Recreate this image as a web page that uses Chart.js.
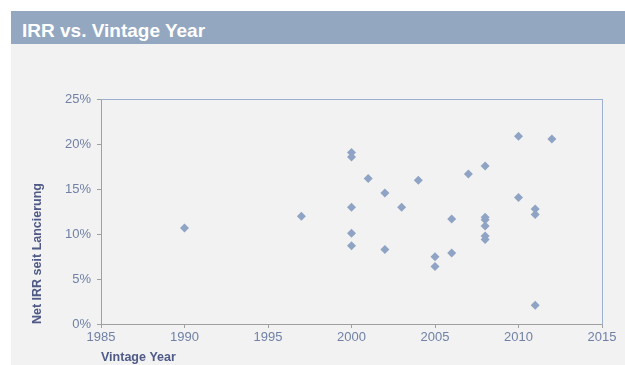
<!DOCTYPE html>
<html>
<head>
<meta charset="utf-8">
<script src="https://cdn.jsdelivr.net/npm/chart.js@4/dist/chart.umd.min.js"></script>
<style>
  html, body { margin: 0; padding: 0; background: #fff; }
  #wrap { position: relative; width: 625px; height: 365px; overflow: hidden; }
  #header {
    position: absolute; left: 11px; top: 11px; width: 614px; height: 33px;
    background: #93a7c1; color: #fff;
    font: bold 19px "Liberation Sans", Arial, sans-serif;
    line-height: 26px; padding: 7px 0 0 11px; box-sizing: border-box;
  }
  #panel { position: absolute; left: 11px; top: 44px; width: 614px; height: 321px; background: #f2f2f2; }
  #irrChart { position: absolute; left: 0; top: 0; }
</style>
</head>
<body>
<div id="wrap">
  <div id="header">IRR vs. Vintage Year</div>
  <div id="panel"></div>
  <canvas id="irrChart" width="625" height="365"></canvas>
</div>
<script>
// values (IRR in %)
const vintageYears = [1990, 1997, 2000, 2000, 2000, 2000, 2000, 2001, 2002, 2002, 2003, 2004,
  2005, 2005, 2006, 2006, 2007, 2008, 2008, 2008, 2008, 2008, 2008, 2010, 2010, 2011, 2011, 2011, 2012];
const netIrr = [10.7, 12.0, 19.1, 18.6, 13.0, 10.1, 8.7, 16.2, 14.6, 8.3, 13.0, 16.0,
  7.5, 6.4, 11.7, 7.9, 16.7, 17.6, 11.9, 11.6, 10.9, 9.8, 9.4, 20.9, 14.1, 12.8, 12.2, 2.1, 20.6];
const yearTicks = [1985, 1990, 1995, 2000, 2005, 2010, 2015];
const irrTicks = [0, 5, 10, 15, 20, 25];

const axisGrey = "#a0a0a0";
const frameBlue = "#9cb1d1";
const labelColor = "#7080a6";
const titleColor = "#4f5a86";

const points = vintageYears.map((yr, i) => ({ x: yr, y: netIrr[i] }));

new Chart(document.getElementById("irrChart"), {
  type: "scatter",
  data: {
    datasets: [
      {
        data: points,
        pointStyle: "rectRot",
        pointRadius: 4.5,
        pointHoverRadius: 4.5,
        backgroundColor: "#8fa4c4",
        borderWidth: 0,
      },
    ],
  },
  options: {
    responsive: false,
    animation: false,
    devicePixelRatio: 1,
    layout: { padding: { top: 99.5, right: 23, left: 0, bottom: 0 } },
    plugins: { legend: { display: false }, tooltip: { enabled: false } },
    scales: {
      x: {
        type: "linear",
        position: "bottom",
        min: yearTicks[0],
        max: yearTicks[yearTicks.length - 1],
        afterBuildTicks: (scale) => { scale.ticks = yearTicks.map((v) => ({ value: v })); },
        afterFit: (scale) => { scale.height = 41; },
        ticks: {
          color: labelColor,
          font: { family: "Liberation Sans", size: 13 },
          padding: 2,
          maxRotation: 0,
          callback: (v) => String(v),
        },
        grid: { drawOnChartArea: false, drawTicks: true, tickLength: 4, color: axisGrey },
        border: { display: true, color: axisGrey },
        title: {
          display: true,
          text: "Vintage Year",
          align: "start",
          color: titleColor,
          font: { family: "Liberation Sans", size: 12.5, weight: "bold" },
          padding: 0,
        },
      },
      y: {
        position: "left",
        min: irrTicks[0],
        max: irrTicks[irrTicks.length - 1],
        afterBuildTicks: (scale) => { scale.ticks = irrTicks.map((v) => ({ value: v })); },
        afterFit: (scale) => { scale.width = 101; },
        ticks: {
          color: labelColor,
          font: { family: "Liberation Sans", size: 13 },
          padding: 6,
          callback: (v) => v + "%",
        },
        grid: { drawOnChartArea: false, drawTicks: true, tickLength: 4, color: axisGrey },
        border: { display: true, color: axisGrey },
        title: {
          display: true,
          text: "Net IRR seit Lancierung",
          align: "start",
          color: titleColor,
          font: { family: "Liberation Sans", size: 12.5, weight: "bold" },
          padding: { top: 30, bottom: 0 },
        },
      },
      // frame on the top and right
      xTop: {
        type: "linear",
        position: "top",
        min: 0, max: 1,
        afterFit: (scale) => { scale.height = 0; },
        ticks: { display: false },
        grid: { display: false },
        border: { display: true, color: frameBlue },
      },
      yRight: {
        position: "right",
        min: 0, max: 1,
        afterFit: (scale) => { scale.width = 0; },
        ticks: { display: false },
        grid: { display: false },
        border: { display: true, color: frameBlue },
      },
    },
  },
});
</script>
</body>
</html>
